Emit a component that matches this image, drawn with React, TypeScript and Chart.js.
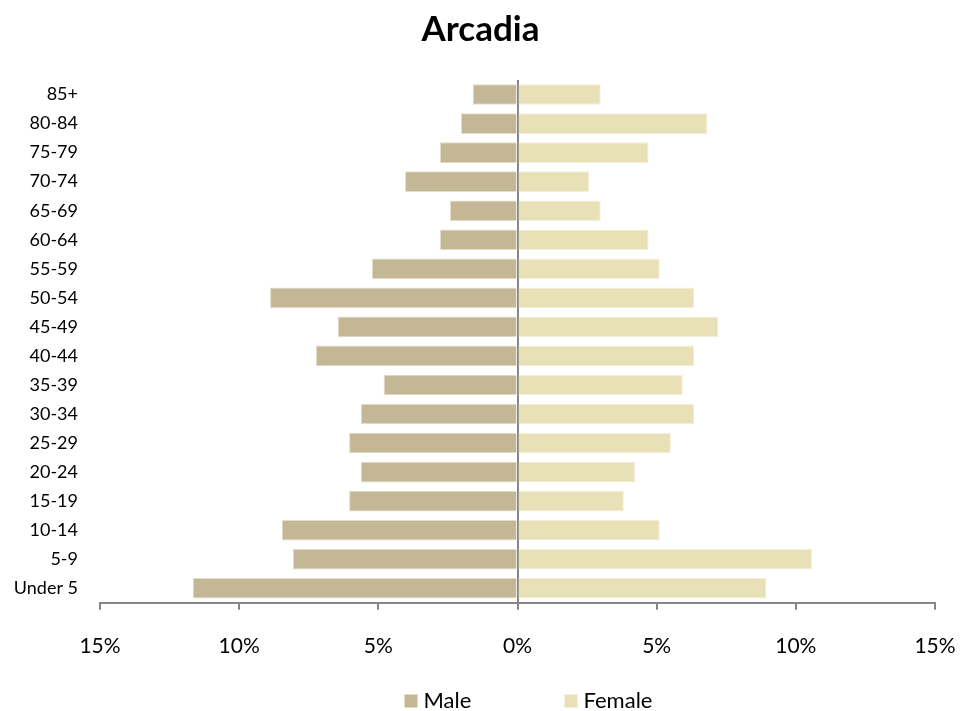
import { useEffect, useRef } from 'react';
import { Chart, registerables } from 'chart.js';

Chart.register(...registerables);

const categories = ['Under 5', '5-9', '10-14', '15-19', '20-24', '25-29', '30-34', '35-39', '40-44', '45-49', '50-54', '55-59', '60-64', '65-69', '70-74', '75-79', '80-84', '85+'];
const maleValues = [11.67, 8.07, 8.47, 6.05, 5.63, 6.05, 5.63, 4.81, 7.24, 6.46, 8.89, 5.23, 2.79, 2.43, 4.04, 2.79, 2.03, 1.61];
const femaleValues = [8.94, 10.58, 5.11, 3.82, 4.23, 5.51, 6.35, 5.94, 6.35, 7.22, 6.35, 5.11, 4.71, 2.99, 2.57, 4.71, 6.82, 2.99];
const xMin = -15;
const xMax = 15;
const xStep = 5;
const titleText = 'Arcadia';
const seriesNames = ['Male', 'Female'];

const MALE_COLOR = '#C4B796';
const FEMALE_COLOR = '#E8E1B8';
const AXIS_COLOR = '#868686';
const FONT = 'Lato';

const customLegend = {
  id: 'customLegend',
  afterDraw(chart: any) {
    const { ctx } = chart;
    const area = chart.chartArea;
    const center = (area.left + area.right) / 2;
    const startX = center - 113;
    const slot = 160;
    const boxSize = 13;
    const cy = 701;
    ctx.save();
    ctx.font = `22px ${FONT}`;
    ctx.textBaseline = 'middle';
    ctx.textAlign = 'left';
    chart.data.datasets.forEach((ds: any, i: number) => {
      const x = startX + i * slot;
      ctx.fillStyle = ds.backgroundColor;
      ctx.fillRect(x, cy - boxSize / 2, boxSize, boxSize);
      ctx.fillStyle = '#000';
      ctx.fillText(ds.label, x + boxSize + 6, cy);
    });
    ctx.restore();
  },
};

export default function App() {
  const canvasRef = useRef<HTMLCanvasElement | null>(null);

  useEffect(() => {
    document.body.style.margin = '0';
    const canvas = canvasRef.current;
    if (!canvas) return;
    const chart = new Chart(canvas, {
      type: 'bar',
      data: {
        labels: categories,
        datasets: [
          {
            label: seriesNames[0],
            data: maleValues.map((v) => -v),
            backgroundColor: MALE_COLOR,
            borderColor: '#E3DCC9',
            borderWidth: 1,
            barPercentage: 0.71,
            categoryPercentage: 1,
          },
          {
            label: seriesNames[1],
            data: femaleValues,
            backgroundColor: FEMALE_COLOR,
            borderColor: '#F3EFD8',
            borderWidth: 1,
            barPercentage: 0.71,
            categoryPercentage: 1,
          },
        ],
      },
      options: {
        indexAxis: 'y',
        animation: false,
        responsive: false,
        maintainAspectRatio: false,
        layout: { padding: { left: 0, right: 0, top: 0, bottom: 28 } },
        plugins: {
          legend: { display: false },
          tooltip: { enabled: false },
          title: {
            display: true,
            text: titleText,
            color: '#000',
            font: { family: FONT, size: 35, weight: 'bold' },
            padding: { top: 9, bottom: 29 },
          },
        },
        scales: {
          x: {
            type: 'linear',
            min: xMin,
            max: xMax,
            stacked: true,
            z: 1,
            afterFit: (scale: any) => {
              scale.paddingLeft = 0;
              scale.paddingRight = 26;
            },
            ticks: {
              stepSize: xStep,
              color: '#000',
              font: { family: FONT, size: 21 },
              padding: 24,
              callback: (v: any) => `${Math.abs(Number(v))}%`,
            },
            grid: {
              display: true,
              drawOnChartArea: true,
              color: (ctx: any) => (ctx.tick && ctx.tick.value === 0 ? AXIS_COLOR : 'rgba(0,0,0,0)'),
              lineWidth: 2,
              drawTicks: true,
              tickLength: 7,
              tickColor: AXIS_COLOR,
              tickWidth: 2,
            },
            border: { display: true, color: AXIS_COLOR, width: 2 },
          },
          y: {
            type: 'category',
            stacked: true,
            reverse: true,
            afterFit: (scale: any) => {
              scale.width = 100;
            },
            ticks: {
              color: '#000',
              font: { family: FONT, size: 18 },
              padding: 14,
            },
            grid: { display: false },
            border: { display: false },
          },
        },
      },
      plugins: [customLegend],
    });
    return () => chart.destroy();
  }, []);

  return (
    <div style={{ width: 961, height: 711 }}>
      <canvas ref={canvasRef} width={961} height={711} style={{ display: 'block' }} />
    </div>
  );
}
